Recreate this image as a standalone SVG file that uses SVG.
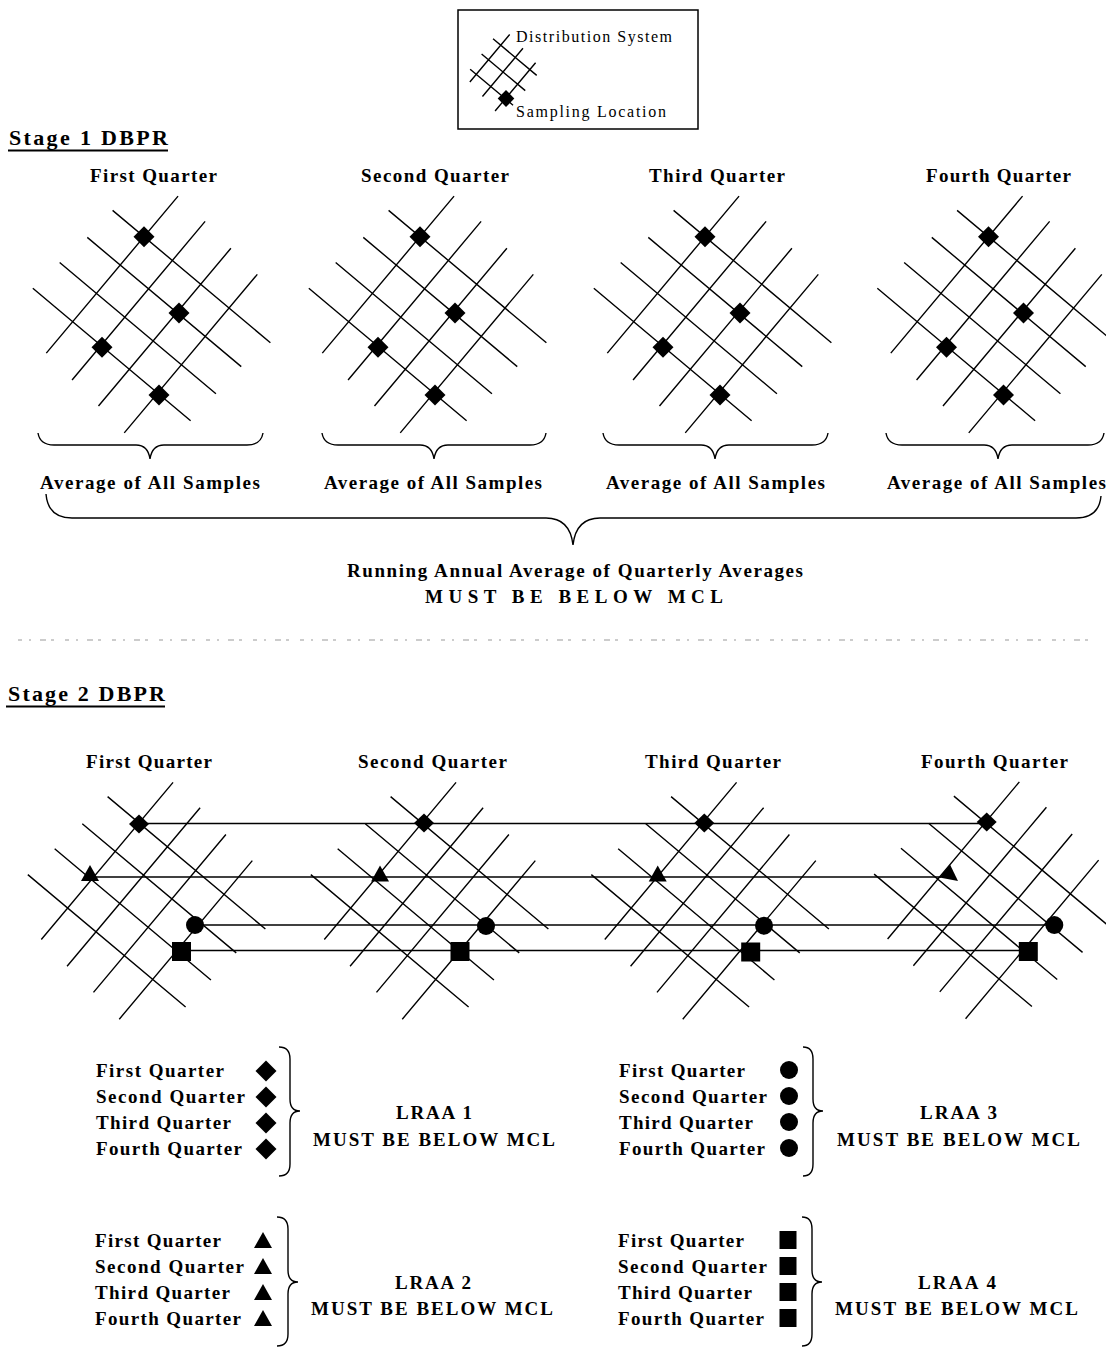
<svg xmlns="http://www.w3.org/2000/svg" width="1106" height="1347" viewBox="0 0 1106 1347">
<style>
.ln{fill:none;stroke:#000;stroke-width:1.4}
.br{fill:none;stroke:#000;stroke-width:1.4}
.t{font-family:"Liberation Serif","Times New Roman",serif;font-weight:bold;font-size:19px;fill:#000}
.h{font-family:"Liberation Serif","Times New Roman",serif;font-weight:bold;font-size:22px;fill:#000}
.lg{font-family:"Liberation Serif","Times New Roman",serif;font-size:16px;fill:#000}
.m{fill:#000}
</style>
<defs>
<path id="grid" class="ln" d="M0,-53V152M37,-51V156M74,-47V159M111,-44V163M-41,0H165M-43,37H158M-48,74H156M-52,111H154"/>
<path id="dia" class="m" d="M0,-10.5L10.5,0L0,10.5L-10.5,0Z"/>
<path id="dia2" class="m" d="M0,-9.5L10,0L0,9.5L-10,0Z"/>
<path id="tri" class="m" d="M0,-8L9,8L-9,8Z"/>
<circle id="cir" class="m" r="9"/>
<rect id="sq" class="m" x="-9.5" y="-9.5" width="19" height="19"/>
<rect id="sq2" class="m" x="-8.5" y="-9" width="17" height="18"/>
</defs>
<rect width="1106" height="1347" fill="#fff"/>

<g id="legend">
<rect x="458" y="10" width="240" height="119" fill="none" stroke="#000" stroke-width="1.5"/>
<path class="ln" transform="translate(500.7,45.2) rotate(40)" d="M0,-14V48M19,-12V51M38,-9V54M-10,0H47M-9,19H48M-8,38H48"/>
<path class="m" d="M506,90L514.3,98.5L506,107L497.7,98.5Z"/>
<text class="lg" x="516" y="42" textLength="156" lengthAdjust="spacing">Distribution System</text>
<text class="lg" x="516" y="117" textLength="150" lengthAdjust="spacing">Sampling Location</text>
</g>

<g id="stage1-title">
<text class="h" x="9" y="145" textLength="159" lengthAdjust="spacing">Stage 1 DBPR</text>
<line x1="8" y1="150.5" x2="168" y2="150.5" stroke="#000" stroke-width="1.8"/>
</g>

<g id="s1-q1">
<text class="t" x="90" y="182" textLength="127" lengthAdjust="spacing">First Quarter</text>
<use href="#grid" transform="translate(144,236.7) rotate(40)"/>
<use href="#dia" x="144" y="236.7"/><use href="#dia" x="179" y="313"/><use href="#dia" x="102" y="347.3"/><use href="#dia" x="159" y="395"/>
</g>
<g id="s1-q2">
<text class="t" x="361" y="182" textLength="148" lengthAdjust="spacing">Second Quarter</text>
<use href="#grid" transform="translate(420,236.7) rotate(40)"/>
<use href="#dia" x="420" y="236.7"/><use href="#dia" x="455" y="313"/><use href="#dia" x="378" y="347.3"/><use href="#dia" x="435" y="395"/>
</g>
<g id="s1-q3">
<text class="t" x="649" y="182" textLength="136" lengthAdjust="spacing">Third Quarter</text>
<use href="#grid" transform="translate(705,236.7) rotate(40)"/>
<use href="#dia" x="705" y="236.7"/><use href="#dia" x="740" y="313"/><use href="#dia" x="663" y="347.3"/><use href="#dia" x="720" y="395"/>
</g>
<g id="s1-q4">
<text class="t" x="926" y="182" textLength="145" lengthAdjust="spacing">Fourth Quarter</text>
<use href="#grid" transform="translate(988.5,236.7) rotate(40)"/>
<use href="#dia" x="988.5" y="236.7"/><use href="#dia" x="1023.5" y="313"/><use href="#dia" x="946.5" y="347.3"/><use href="#dia" x="1003.5" y="395"/>
</g>

<g id="s1-braces">
<path class="br" d="M38,433Q40,445 54,445L136,445Q148,445 150,459Q152,445 164,445L247,445Q261,445 263,433"/>
<path class="br" d="M322,433Q324,445 338,445L420,445Q432,445 434,459Q436,445 448,445L530,445Q544,445 546,433"/>
<path class="br" d="M603,433Q605,445 619,445L701,445Q713,445 715,459Q717,445 729,445L812,445Q826,445 828,433"/>
<path class="br" d="M886,433Q888,445 902,445L984,445Q996,445 998,459Q1000,445 1012,445L1088,445Q1102,445 1104,433"/>
<path class="br" d="M46,494Q48,518 72,518L546,518Q570,518 573,545Q576,518 600,518L1076,518Q1099,518 1101,496"/>
</g>

<g id="s1-results">
<text class="t" x="40" y="489" textLength="220" lengthAdjust="spacing">Average of All Samples</text>
<text class="t" x="324" y="489" textLength="218" lengthAdjust="spacing">Average of All Samples</text>
<text class="t" x="606" y="489" textLength="219" lengthAdjust="spacing">Average of All Samples</text>
<text class="t" x="887" y="489" textLength="219" lengthAdjust="spacing">Average of All Samples</text>
<text class="t" x="347" y="577" textLength="456" lengthAdjust="spacing">Running Annual Average of Quarterly Averages</text>
<text class="t" x="425" y="603" textLength="298" lengthAdjust="spacing">MUST BE BELOW MCL</text>
</g>

<line id="separator" x1="18" y1="640" x2="1095" y2="640" stroke="#999" stroke-width="1" stroke-dasharray="4 7 2 9 6 5 3 11"/>

<g id="stage2-title">
<text class="h" x="8" y="701" textLength="157" lengthAdjust="spacing">Stage 2 DBPR</text>
<line x1="6" y1="706.5" x2="165" y2="706.5" stroke="#000" stroke-width="1.8"/>
</g>

<g id="connectors">
<line class="ln" x1="139" y1="823.5" x2="987" y2="823.5"/>
<line class="ln" x1="90" y1="877" x2="941" y2="877"/>
<line class="ln" x1="195" y1="925" x2="1054" y2="925"/>
<line class="ln" x1="181" y1="950.5" x2="1028" y2="950.5"/>
</g>

<g id="s2-q1">
<text class="t" x="86" y="768" textLength="126" lengthAdjust="spacing">First Quarter</text>
<use href="#grid" transform="translate(139,823) rotate(40)"/>
<use href="#dia2" x="139" y="824"/><use href="#tri" x="90" y="873"/><use href="#cir" x="195" y="925"/><use href="#sq" x="181.5" y="951.5"/>
</g>
<g id="s2-q2">
<text class="t" x="358" y="768" textLength="149" lengthAdjust="spacing">Second Quarter</text>
<use href="#grid" transform="translate(422,823) rotate(40)"/>
<use href="#dia2" x="424" y="823"/><use href="#tri" x="380" y="873.5"/><use href="#cir" x="486" y="926"/><use href="#sq" x="460" y="951.5"/>
</g>
<g id="s2-q3">
<text class="t" x="645" y="768" textLength="136" lengthAdjust="spacing">Third Quarter</text>
<use href="#grid" transform="translate(702.5,823) rotate(40)"/>
<use href="#dia2" x="704.3" y="823"/><use href="#tri" x="657.7" y="873.5"/><use href="#cir" x="764" y="925.7"/><use href="#sq" x="750.7" y="952"/>
</g>
<g id="s2-q4">
<text class="t" x="921" y="768" textLength="147" lengthAdjust="spacing">Fourth Quarter</text>
<use href="#grid" transform="translate(985.3,822.5) rotate(40)"/>
<use href="#dia2" x="986.7" y="822"/><path class="m" d="M950,864.5L939.5,877.5L958,881Z"/><use href="#cir" x="1054.3" y="925"/><use href="#sq" x="1028.3" y="951.5"/>
</g>

<g id="lraa1">
<text class="t" x="96" y="1077" textLength="128" lengthAdjust="spacing">First Quarter</text>
<text class="t" x="96" y="1103" textLength="149" lengthAdjust="spacing">Second Quarter</text>
<text class="t" x="96" y="1129" textLength="135" lengthAdjust="spacing">Third Quarter</text>
<text class="t" x="96" y="1155" textLength="146" lengthAdjust="spacing">Fourth Quarter</text>
<use href="#dia" x="266" y="1071"/><use href="#dia" x="266" y="1097"/><use href="#dia" x="266" y="1123"/><use href="#dia" x="266" y="1149"/>
<path class="br" d="M279,1047Q290,1047 290,1059L290,1099Q290,1111 300,1111Q290,1111 290,1123L290,1164Q290,1176 279,1176"/>
<text class="t" x="396" y="1119" textLength="76" lengthAdjust="spacing">LRAA 1</text>
<text class="t" x="313" y="1146" textLength="242" lengthAdjust="spacing">MUST BE BELOW MCL</text>
</g>

<g id="lraa3">
<text class="t" x="619" y="1077" textLength="126" lengthAdjust="spacing">First Quarter</text>
<text class="t" x="619" y="1103" textLength="148" lengthAdjust="spacing">Second Quarter</text>
<text class="t" x="619" y="1129" textLength="134" lengthAdjust="spacing">Third Quarter</text>
<text class="t" x="619" y="1155" textLength="146" lengthAdjust="spacing">Fourth Quarter</text>
<use href="#cir" x="789" y="1070"/><use href="#cir" x="789" y="1096"/><use href="#cir" x="789" y="1122"/><use href="#cir" x="789" y="1148"/>
<path class="br" d="M803,1047Q813,1047 813,1059L813,1099Q813,1111 823,1111Q813,1111 813,1123L813,1164Q813,1176 803,1176"/>
<text class="t" x="920" y="1119" textLength="77" lengthAdjust="spacing">LRAA 3</text>
<text class="t" x="837" y="1146" textLength="243" lengthAdjust="spacing">MUST BE BELOW MCL</text>
</g>

<g id="lraa2">
<text class="t" x="95" y="1247" textLength="126" lengthAdjust="spacing">First Quarter</text>
<text class="t" x="95" y="1273" textLength="149" lengthAdjust="spacing">Second Quarter</text>
<text class="t" x="95" y="1299" textLength="135" lengthAdjust="spacing">Third Quarter</text>
<text class="t" x="95" y="1325" textLength="146" lengthAdjust="spacing">Fourth Quarter</text>
<use href="#tri" x="263" y="1240"/><use href="#tri" x="263" y="1266"/><use href="#tri" x="263" y="1292"/><use href="#tri" x="263" y="1318"/>
<path class="br" d="M277,1217Q288,1217 288,1229L288,1270Q288,1282 298,1282Q288,1282 288,1294L288,1334Q288,1346 277,1346"/>
<text class="t" x="395" y="1289" textLength="76" lengthAdjust="spacing">LRAA 2</text>
<text class="t" x="311" y="1315" textLength="242" lengthAdjust="spacing">MUST BE BELOW MCL</text>
</g>

<g id="lraa4">
<text class="t" x="618" y="1247" textLength="126" lengthAdjust="spacing">First Quarter</text>
<text class="t" x="618" y="1273" textLength="149" lengthAdjust="spacing">Second Quarter</text>
<text class="t" x="618" y="1299" textLength="134" lengthAdjust="spacing">Third Quarter</text>
<text class="t" x="618" y="1325" textLength="146" lengthAdjust="spacing">Fourth Quarter</text>
<use href="#sq2" x="788" y="1240"/><use href="#sq2" x="788" y="1266"/><use href="#sq2" x="788" y="1292"/><use href="#sq2" x="788" y="1318"/>
<path class="br" d="M802,1217Q812,1217 812,1229L812,1270Q812,1282 822,1282Q812,1282 812,1294L812,1334Q812,1346 802,1346"/>
<text class="t" x="918" y="1289" textLength="78" lengthAdjust="spacing">LRAA 4</text>
<text class="t" x="835" y="1315" textLength="243" lengthAdjust="spacing">MUST BE BELOW MCL</text>
</g>
</svg>
